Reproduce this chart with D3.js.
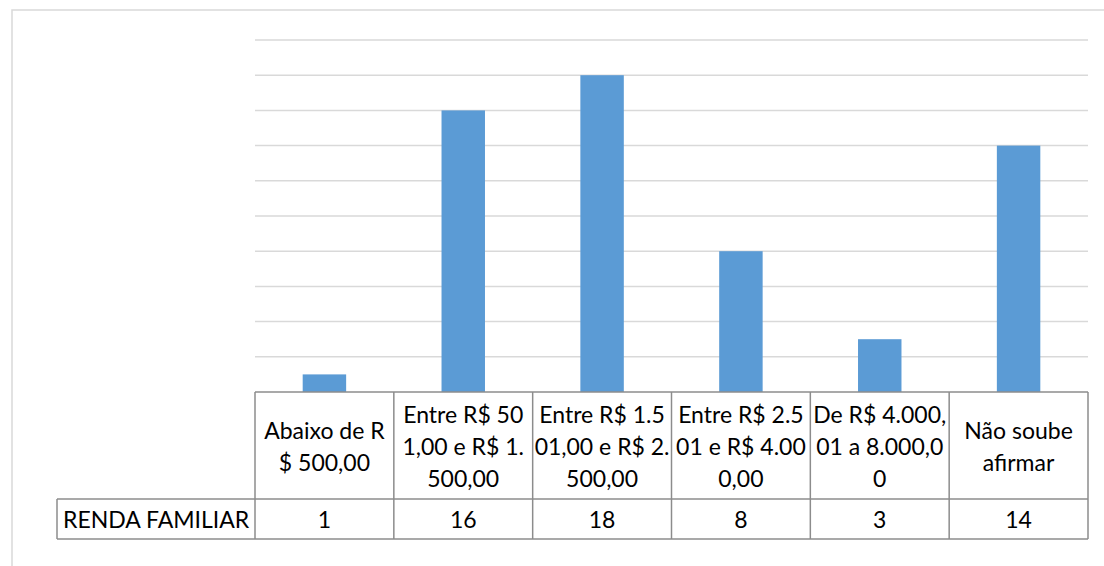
<!DOCTYPE html>
<html>
<head>
<meta charset="utf-8">
<script src="https://cdn.jsdelivr.net/npm/d3@7"></script>
<style>
  html, body { margin: 0; padding: 0; background: #fff; }
  svg { display: block; }
  text { font-family: Lato, "Open Sans", sans-serif; fill: #000; }
</style>
</head>
<body>
<svg id="chart" width="1104" height="566"></svg>
<script>
// Income brackets (wrapped as they appear in the data table header)
const categories = [
  "Abaixo de R|$ 500,00",
  "Entre R$ 50|1,00 e R$ 1.|500,00",
  "Entre R$ 1.5|01,00 e R$ 2.|500,00",
  "Entre R$ 2.5|01 e R$ 4.00|0,00",
  "De R$ 4.000,|01 a 8.000,0|0",
  "Não soube|afirmar"
];
const seriesName = "RENDA FAMILIAR";
const values = [1, 16, 18, 8, 3, 14];
const gridTicks = [2, 4, 6, 8, 10, 12, 14, 16, 18, 20];

const svg = d3.select("#chart");
const plot = { left: 255, right: 1088, top: 40, bottom: 392 };
const table = { labelLeft: 57, headerBottom: 499, rowBottom: 539 };

// chart area frame
svg.append("rect")
  .attr("x", 12).attr("y", 10)
  .attr("width", 1200).attr("height", 700)
  .attr("fill", "#fff")
  .attr("stroke", "#d9d9d9").attr("stroke-width", 1.5);

const x = d3.scaleBand()
  .domain(categories)
  .range([plot.left, plot.right])
  .paddingInner(0.687)
  .paddingOuter(0.687 / 2);

const cols = d3.scaleBand()
  .domain(categories)
  .range([plot.left, plot.right]);

const y = d3.scaleLinear().domain([0, 20]).range([plot.bottom, plot.top]);

// horizontal gridlines
svg.append("g").selectAll("line")
  .data(gridTicks)
  .join("line")
  .attr("x1", plot.left).attr("x2", plot.right)
  .attr("y1", d => y(d)).attr("y2", d => y(d))
  .attr("stroke", "#d9d9d9").attr("stroke-width", 1.5);

// columns
svg.append("g").selectAll("rect")
  .data(values)
  .join("rect")
  .attr("x", (d, i) => x(categories[i]))
  .attr("width", x.bandwidth())
  .attr("y", d => y(d))
  .attr("height", d => y(0) - y(d))
  .attr("fill", "#5b9bd5");

// data table
const tg = svg.append("g");
const border = { stroke: "#8c8c8c", "stroke-width": 1.5 };
function line(x1, y1, x2, y2) {
  const l = tg.append("line").attr("x1", x1).attr("y1", y1).attr("x2", x2).attr("y2", y2);
  Object.entries(border).forEach(([k, v]) => l.attr(k, v));
}
line(plot.left, plot.bottom, plot.right, plot.bottom);
line(table.labelLeft, table.headerBottom, plot.right, table.headerBottom);
line(table.labelLeft, table.rowBottom, plot.right, table.rowBottom);
line(table.labelLeft, table.headerBottom, table.labelLeft, table.rowBottom);
categories.forEach(c => line(cols(c), plot.bottom, cols(c), table.rowBottom));
line(plot.right, plot.bottom, plot.right, table.rowBottom);

const fontSize = 23, lineGap = 32;
const headerMid = (plot.bottom + table.headerBottom) / 2;
categories.forEach((c, i) => {
  const lines = c.split("|");
  const cx = cols(c) + cols.bandwidth() / 2;
  lines.forEach((t, j) => {
    tg.append("text")
      .attr("x", cx)
      .attr("y", headerMid + (j - (lines.length - 1) / 2) * lineGap + 9)
      .attr("text-anchor", "middle")
      .attr("font-size", fontSize)
      .text(t);
  });
  tg.append("text")
    .attr("x", cx)
    .attr("y", (table.headerBottom + table.rowBottom) / 2 + 8.5)
    .attr("text-anchor", "middle")
    .attr("font-size", fontSize)
    .text(values[i]);
});
tg.append("text")
  .attr("x", table.labelLeft + 6)
  .attr("y", (table.headerBottom + table.rowBottom) / 2 + 8.5)
  .attr("font-size", fontSize)
  .text(seriesName);
</script>
</body>
</html>
